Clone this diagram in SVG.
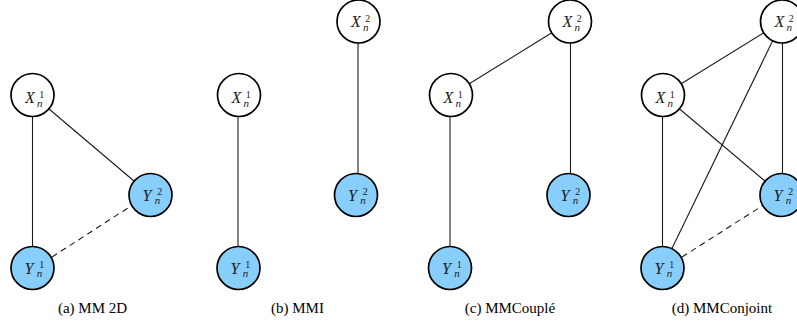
<svg xmlns="http://www.w3.org/2000/svg" width="797" height="324" viewBox="0 0 797 324">
  <style>
    .edge { stroke: #1a1a1a; stroke-width: 1.1; fill: none; }
    .dashed { stroke-dasharray: 6 4.5; }
    .node circle { stroke: #000; stroke-width: 1.7; }
    .latent circle { fill: #ffffff; }
    .observed circle { fill: #87cefa; }
    text { font-family: "Liberation Serif", "Times New Roman", "DejaVu Serif", serif; }
    .sym { fill: #222; }
    .main { font-size: 16px; font-style: italic; }
    .sup { font-size: 10px; }
    .sub { font-size: 11px; font-style: italic; }
    .caption { font-size: 15px; fill: #000; text-anchor: middle; }
  </style>

  <!-- connectors -->
  <g id="edges">
    <!-- (a) MM 2D -->
    <line class="edge" x1="32.5" y1="95" x2="32.5" y2="268"/>
    <line class="edge" x1="32.5" y1="95" x2="150.5" y2="195"/>
    <line class="edge dashed" x1="52" y1="257" x2="131" y2="206"/>
    <!-- (b) MMI -->
    <line class="edge" x1="238" y1="95" x2="238" y2="268"/>
    <line class="edge" x1="358" y1="21.5" x2="358" y2="195"/>
    <!-- (c) MMCouplé -->
    <line class="edge" x1="451" y1="95" x2="570" y2="21.5"/>
    <line class="edge" x1="450" y1="95" x2="450" y2="268"/>
    <line class="edge" x1="570.5" y1="21.5" x2="570.5" y2="195"/>
    <!-- (d) MMConjoint -->
    <line class="edge" x1="663" y1="95" x2="782" y2="21.5"/>
    <line class="edge" x1="662.5" y1="95" x2="662.5" y2="268"/>
    <line class="edge" x1="663" y1="95" x2="781.5" y2="195"/>
    <line class="edge" x1="782" y1="21.5" x2="662.5" y2="268"/>
    <line class="edge" x1="782.5" y1="21.5" x2="782.5" y2="195"/>
    <line class="edge dashed" x1="682" y1="257" x2="762" y2="206"/>
  </g>

  <!-- (a) MM 2D -->
  <g id="a-x1" class="node latent" transform="translate(32.5,95)">
    <circle r="21.5"/>
    <text class="sym"><tspan class="main" x="-7.5" y="8.3">X</tspan><tspan class="sup" x="6.8" y="3">1</tspan><tspan class="sub" x="4.5" y="11.7">n</tspan></text>
  </g>
  <g id="a-y1" class="node observed" transform="translate(32.5,268)">
    <circle r="21.5"/>
    <text class="sym"><tspan class="main" x="-8" y="5.5">Y</tspan><tspan class="sup" x="6.8" y="0.2">1</tspan><tspan class="sub" x="4.2" y="9">n</tspan></text>
  </g>
  <g id="a-y2" class="node observed" transform="translate(150.5,195)">
    <circle r="21.5"/>
    <text class="sym"><tspan class="main" x="-8" y="5.5">Y</tspan><tspan class="sup" x="6.8" y="0.2">2</tspan><tspan class="sub" x="4.2" y="9">n</tspan></text>
  </g>

  <!-- (b) MMI -->
  <g id="b-x1" class="node latent" transform="translate(239,95)">
    <circle r="21.5"/>
    <text class="sym"><tspan class="main" x="-7.5" y="8.3">X</tspan><tspan class="sup" x="6.8" y="3">1</tspan><tspan class="sub" x="4.5" y="11.7">n</tspan></text>
  </g>
  <g id="b-x2" class="node latent" transform="translate(358.5,21.5)">
    <circle r="21.5"/>
    <text class="sym"><tspan class="main" x="-7.5" y="5.5">X</tspan><tspan class="sup" x="6.8" y="0.2">2</tspan><tspan class="sub" x="4.5" y="9">n</tspan></text>
  </g>
  <g id="b-y1" class="node observed" transform="translate(238.5,268)">
    <circle r="21.5"/>
    <text class="sym"><tspan class="main" x="-8" y="5.5">Y</tspan><tspan class="sup" x="6.8" y="0.2">1</tspan><tspan class="sub" x="4.2" y="9">n</tspan></text>
  </g>
  <g id="b-y2" class="node observed" transform="translate(356,195)">
    <circle r="21.5"/>
    <text class="sym"><tspan class="main" x="-8" y="5.5">Y</tspan><tspan class="sup" x="6.8" y="0.2">2</tspan><tspan class="sub" x="4.2" y="9">n</tspan></text>
  </g>

  <!-- (c) MMCouplé -->
  <g id="c-x1" class="node latent" transform="translate(451,95)">
    <circle r="21.5"/>
    <text class="sym"><tspan class="main" x="-7.5" y="8.3">X</tspan><tspan class="sup" x="6.8" y="3">1</tspan><tspan class="sub" x="4.5" y="11.7">n</tspan></text>
  </g>
  <g id="c-x2" class="node latent" transform="translate(570,21.5)">
    <circle r="21.5"/>
    <text class="sym"><tspan class="main" x="-7.5" y="5.5">X</tspan><tspan class="sup" x="6.8" y="0.2">2</tspan><tspan class="sub" x="4.5" y="9">n</tspan></text>
  </g>
  <g id="c-y1" class="node observed" transform="translate(450,268)">
    <circle r="21.5"/>
    <text class="sym"><tspan class="main" x="-8" y="5.5">Y</tspan><tspan class="sup" x="6.8" y="0.2">1</tspan><tspan class="sub" x="4.2" y="9">n</tspan></text>
  </g>
  <g id="c-y2" class="node observed" transform="translate(568.5,195)">
    <circle r="21.5"/>
    <text class="sym"><tspan class="main" x="-8" y="5.5">Y</tspan><tspan class="sup" x="6.8" y="0.2">2</tspan><tspan class="sub" x="4.2" y="9">n</tspan></text>
  </g>

  <!-- (d) MMConjoint -->
  <g id="d-x1" class="node latent" transform="translate(663,95)">
    <circle r="21.5"/>
    <text class="sym"><tspan class="main" x="-7.5" y="8.3">X</tspan><tspan class="sup" x="6.8" y="3">1</tspan><tspan class="sub" x="4.5" y="11.7">n</tspan></text>
  </g>
  <g id="d-x2" class="node latent" transform="translate(782,21.5)">
    <circle r="21.5"/>
    <text class="sym"><tspan class="main" x="-7.5" y="5.5">X</tspan><tspan class="sup" x="6.8" y="0.2">2</tspan><tspan class="sub" x="4.5" y="9">n</tspan></text>
  </g>
  <g id="d-y1" class="node observed" transform="translate(662.5,268)">
    <circle r="21.5"/>
    <text class="sym"><tspan class="main" x="-8" y="5.5">Y</tspan><tspan class="sup" x="6.8" y="0.2">1</tspan><tspan class="sub" x="4.2" y="9">n</tspan></text>
  </g>
  <g id="d-y2" class="node observed" transform="translate(781.5,195)">
    <circle r="21.5"/>
    <text class="sym"><tspan class="main" x="-8" y="5.5">Y</tspan><tspan class="sup" x="6.8" y="0.2">2</tspan><tspan class="sub" x="4.2" y="9">n</tspan></text>
  </g>

  <!-- captions -->
  <g id="captions">
    <text class="caption" x="92.5" y="313">(a) MM 2D</text>
    <text class="caption" x="297.5" y="313">(b) MMI</text>
    <text class="caption" x="510" y="313">(c) MMCouplé</text>
    <text class="caption" x="722" y="313">(d) MMConjoint</text>
  </g>
</svg>
